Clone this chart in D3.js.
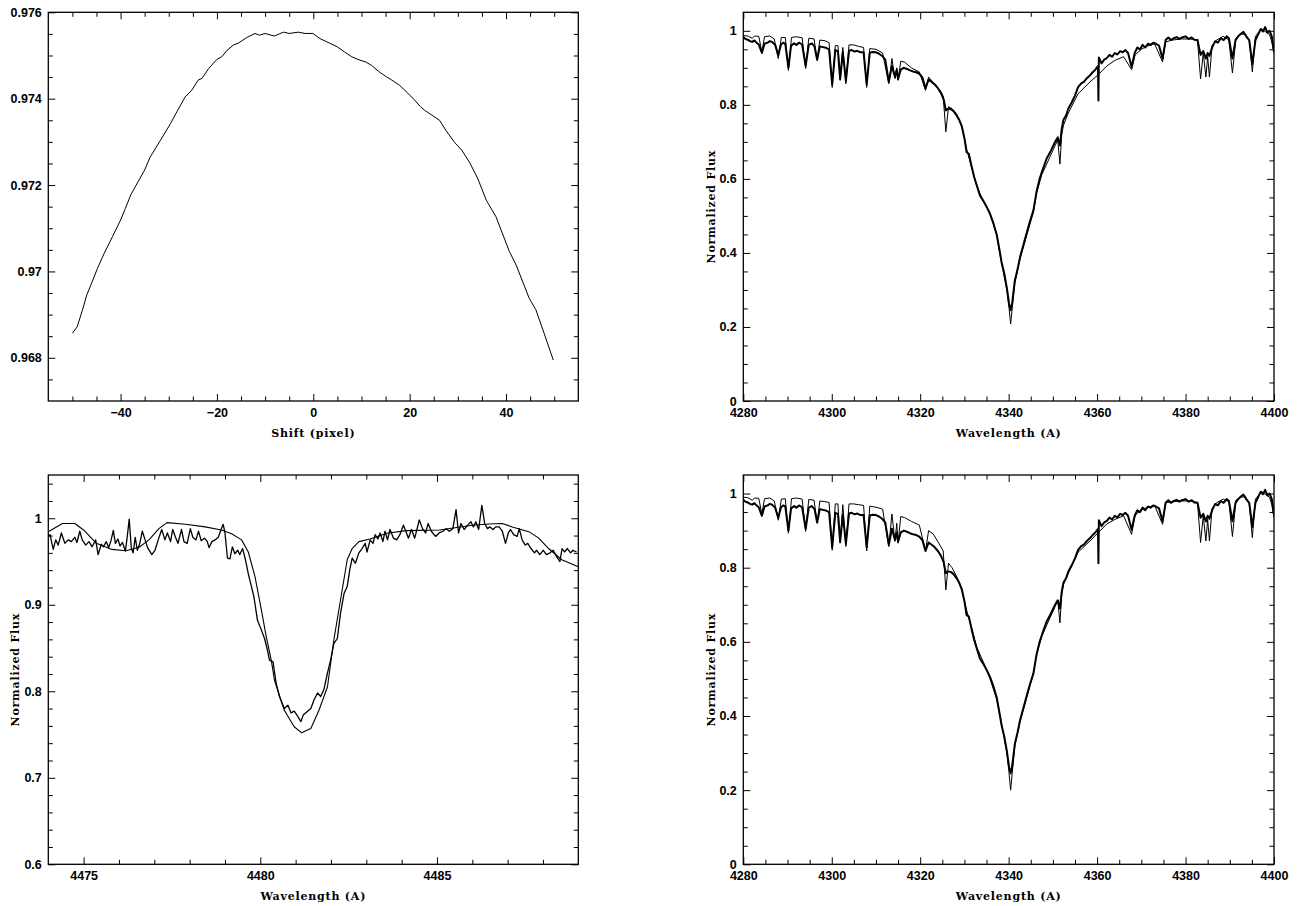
<!DOCTYPE html>
<html><head><meta charset="utf-8">
<script src="https://cdn.jsdelivr.net/npm/d3@7"></script>
<style>body{margin:0;background:#fff} svg{display:block}</style>
</head><body>
<svg id="c" width="1307" height="906"></svg>
<script>
// ---------- Cross-correlation (top-left) ----------
const ccfShift = [-50,-49,-47.9,-47,-46,-44.8,-43.4,-41.7,-40,-39,
  -37.9,-35,-33.9,-31.7,-29.6,-28.3,-26.6,-25.2,-23.9,-23.1,
  -21.7,-20,-19,-17.9,-16.6,-15.5,-13.9,-12.1,-11.2,-10,
  -8.1,-6.2,-5,-3.1,-1.7,-0.1,1.4,3.5,5,6.5,
  8,9.7,10.9,12.1,13.8,15,16.3,17.9,19.6,21,
  22.2,23.1,24.6,26.2,27.5,29.3,30.8,32.4,34.1,35.9,
  37.9,40.7,42.1,44.8,46.2,47.9,49.8];
const ccfValue = [0.96857,0.96872,0.96911,0.96946,0.96973,0.97007,0.97042,0.9708,0.97119,0.97146,
  0.97177,0.97235,0.97264,0.97304,0.97343,0.9737,0.97404,0.9742,0.97443,0.97447,
  0.9747,0.97491,0.97497,0.97512,0.97524,0.97529,0.97541,0.97551,0.97547,0.97551,
  0.97545,0.97554,0.97551,0.97554,0.97551,0.97551,0.97539,0.97528,0.9752,0.97508,
  0.97497,0.97489,0.97485,0.97477,0.97461,0.97452,0.97443,0.97431,0.97413,0.97397,
  0.97382,0.97373,0.97362,0.9735,0.97327,0.97299,0.97281,0.97253,0.97216,0.97165,
  0.97127,0.97046,0.97015,0.96938,0.96911,0.96857,0.96795];
const ccfXTicks = [-40,-20,0,20,40];
const ccfXLabels = ["\u221240","\u221220","0","20","40"];
const ccfYTicks = [0.968,0.970,0.972,0.974,0.976];
const ccfYLabels = ["0.968","0.97","0.972","0.974","0.976"];

// ---------- H-gamma region (right panels) ----------
const modelWave = [4280,4281,4282,4282.6,4283.5,4284.2,4284.8,4286,4287,4287.9,
  4288.6,4289.5,4290.2,4290.9,4292,4293.3,4294.1,4294.8,4296,4296.7,
  4297.3,4298.5,4299.4,4300.1,4300.8,4301.4,4301.9,4302.5,4303.2,4303.9,
  4305,4306,4307.2,4307.9,4308.6,4310,4311.5,4312.9,4313.6,4314.3,
  4314.7,4315.0,4315.6,4316.5,4318,4319.8,4321.2,4321.9,4323,4324.5,
  4325.2,4325.8,4326.4,4327.2,4328.2,4329.4,4330.5,4331.6,4332.8,4334.3,
  4335.8,4337.3,4338.4,4339.6,4340.1,4340.45,4340.8,4341.4,4342.6,4344.1,
  4345.6,4346.3,4347.5,4348.6,4350.5,4351.1,4351.6,4352.0,4352.4,4353.5,
  4355.7,4358.4,4360.3,4362.2,4364,4366,4367.8,4368.6,4370,4371.2,
  4373,4374.8,4375.5,4377,4379,4381,4382.7,4383.4,4384.0,4384.6,
  4385.0,4385.4,4386.0,4387,4388.5,4389.8,4390.6,4391.4,4392.5,4393.5,
  4394.4,4395.1,4395.8,4397.2,4398,4399,4399.5,4400];
const modelAFlux = [0.987,0.986,0.980,0.986,0.985,0.943,0.984,0.986,0.978,0.925,
  0.982,0.982,0.893,0.982,0.984,0.981,0.898,0.980,0.978,0.920,
  0.975,0.973,0.968,0.847,0.960,0.960,0.866,0.955,0.857,0.962,
  0.962,0.958,0.955,0.847,0.952,0.950,0.940,0.857,0.925,0.871,
  0.900,0.866,0.918,0.915,0.900,0.889,0.839,0.875,0.860,0.839,
  0.823,0.727,0.795,0.790,0.776,0.745,0.680,0.632,0.580,0.540,
  0.508,0.447,0.372,0.300,0.250,0.208,0.250,0.320,0.385,0.448,
  0.510,0.560,0.612,0.640,0.690,0.705,0.640,0.720,0.745,0.778,
  0.830,0.862,0.882,0.905,0.920,0.930,0.895,0.935,0.950,0.958,
  0.965,0.916,0.970,0.975,0.978,0.978,0.975,0.870,0.940,0.875,
  0.930,0.875,0.960,0.975,0.985,0.975,0.886,0.980,0.990,0.992,
  0.975,0.889,0.985,1.005,0.998,0.990,0.970,0.940];
const modelBFlux = [0.990,0.989,0.982,0.988,0.987,0.945,0.986,0.988,0.980,0.928,
  0.985,0.986,0.893,0.986,0.988,0.985,0.898,0.984,0.982,0.920,
  0.980,0.978,0.976,0.847,0.972,0.972,0.866,0.970,0.857,0.972,
  0.972,0.970,0.968,0.845,0.966,0.963,0.958,0.857,0.945,0.871,
  0.920,0.866,0.938,0.935,0.925,0.915,0.845,0.900,0.890,0.860,
  0.845,0.740,0.812,0.800,0.777,0.740,0.685,0.640,0.585,0.545,
  0.500,0.445,0.380,0.300,0.245,0.200,0.245,0.320,0.385,0.450,
  0.515,0.565,0.615,0.645,0.695,0.712,0.651,0.728,0.755,0.785,
  0.842,0.872,0.895,0.918,0.930,0.940,0.890,0.942,0.955,0.962,
  0.968,0.917,0.975,0.978,0.980,0.980,0.976,0.868,0.940,0.872,
  0.930,0.872,0.960,0.975,0.985,0.978,0.884,0.982,0.990,0.992,
  0.975,0.881,0.985,1.005,0.998,0.990,0.970,0.935];
const obsWave = [4280,4280.5,4281,4281.5,4282,4282.5,4283,4283.5,4284.2,4284.8,
  4285.5,4286,4286.5,4287.2,4287.9,4288.5,4289,4289.5,4290.2,4290.8,
  4291.5,4292,4292.6,4293.3,4294.1,4294.8,4295.5,4296.1,4296.7,4297.3,
  4298,4298.7,4299.4,4300.1,4300.8,4301.4,4301.9,4302.5,4303.2,4303.9,
  4304.5,4305.2,4305.8,4306.5,4307.2,4307.9,4308.6,4309.3,4310,4310.7,
  4311.4,4312.1,4312.9,4313.6,4314.3,4314.7,4315.0,4315.6,4316.3,4317,
  4317.7,4318.4,4319.1,4319.8,4320.5,4321.2,4321.9,4322.6,4323.3,4324,
  4324.7,4325.3,4325.8,4326.4,4327,4327.6,4328.2,4328.8,4329.4,4330,
  4330.5,4331,4331.6,4332.2,4332.8,4333.5,4334.3,4335,4335.8,4336.5,
  4337.3,4337.9,4338.4,4339,4339.6,4340.1,4340.45,4340.8,4341.4,4342,
  4342.6,4343.3,4344.1,4344.8,4345.6,4346.3,4347,4347.7,4348.6,4349.5,
  4350.5,4351.1,4351.6,4352,4352.4,4353,4353.5,4354.2,4355,4355.7,
  4356.4,4357,4357.7,4358.4,4359,4359.6,4360.2,4360.3,4360.4,4361,
  4361.6,4362.2,4362.8,4363.4,4364,4364.6,4365.2,4365.8,4366.4,4367,
  4367.8,4368.5,4369.1,4369.7,4370.3,4370.9,4371.5,4372.1,4372.7,4373.3,
  4374,4374.8,4375.5,4376.1,4376.7,4377.3,4378,4378.6,4379.2,4380,
  4380.7,4381.4,4382,4382.7,4383.4,4384,4384.6,4385,4385.4,4386,
  4386.7,4387.3,4388,4388.6,4389.3,4389.8,4390.6,4391.3,4391.9,4392.5,
  4393.1,4393.7,4394.4,4395.1,4395.8,4396.4,4397,4397.5,4398,4398.5,
  4399,4399.5,4400];
const obsFlux = [0.983,0.978,0.976,0.972,0.970,0.974,0.968,0.963,0.940,0.965,
  0.968,0.972,0.970,0.962,0.935,0.962,0.968,0.965,0.900,0.960,
  0.966,0.962,0.968,0.963,0.905,0.962,0.966,0.958,0.922,0.958,
  0.956,0.954,0.950,0.855,0.948,0.945,0.870,0.942,0.865,0.946,
  0.948,0.944,0.946,0.942,0.942,0.855,0.941,0.943,0.942,0.938,
  0.932,0.922,0.862,0.905,0.875,0.895,0.870,0.895,0.900,0.897,
  0.893,0.890,0.888,0.884,0.874,0.845,0.868,0.862,0.855,0.845,
  0.832,0.815,0.785,0.790,0.788,0.782,0.772,0.760,0.742,0.710,
  0.672,0.668,0.635,0.605,0.582,0.555,0.540,0.525,0.505,0.482,
  0.450,0.410,0.375,0.345,0.305,0.262,0.245,0.265,0.325,0.355,
  0.390,0.420,0.455,0.485,0.515,0.565,0.600,0.625,0.655,0.675,
  0.700,0.712,0.690,0.735,0.760,0.772,0.790,0.805,0.825,0.848,
  0.858,0.862,0.872,0.880,0.888,0.895,0.905,0.812,0.928,0.912,
  0.922,0.926,0.935,0.930,0.940,0.936,0.945,0.942,0.948,0.940,
  0.902,0.940,0.955,0.950,0.962,0.955,0.965,0.962,0.968,0.965,
  0.960,0.925,0.975,0.982,0.975,0.980,0.983,0.978,0.982,0.985,
  0.978,0.982,0.976,0.975,0.935,0.945,0.925,0.940,0.932,0.955,
  0.972,0.968,0.980,0.975,0.985,0.980,0.925,0.975,0.985,0.992,
  0.997,0.985,0.975,0.910,0.975,0.990,1.005,0.998,1.010,0.995,
  1.000,0.985,0.943];
const hgXTicks = [4280,4300,4320,4340,4360,4380,4400];
const hgXLabels = ["4280","4300","4320","4340","4360","4380","4400"];
const hgYTicks = [0,0.2,0.4,0.6,0.8,1];
const hgYLabels = ["0","0.2","0.4","0.6","0.8","1"];

// ---------- He I 4471 / Mg II 4481 region (bottom-left) ----------
const mgModelWave = [4474,4474.4,4474.75,4475,4475.36,4475.8,4476.2,4476.57,4476.85,4477.13,
  4477.36,4477.88,4478.44,4478.9,4479.19,4479.47,4479.66,4479.85,4480.03,4480.17,
  4480.31,4480.4,4480.68,4480.96,4481.17,4481.43,4481.66,4481.9,4482.08,4482.27,
  4482.46,4482.6,4482.79,4483.11,4483.58,4484.14,4485.07,4486.0,4486.47,4486.85,
  4487.13,4487.6,4487.88,4488.16,4488.53,4489];
const mgModelFlux = [0.9845,0.994,0.994,0.9865,0.971,0.964,0.9625,0.9665,0.975,0.988,
  0.995,0.993,0.990,0.9865,0.982,0.975,0.961,0.9325,0.894,0.863,
  0.836,0.813,0.778,0.759,0.752,0.757,0.778,0.805,0.859,0.9055,
  0.952,0.965,0.973,0.976,0.9826,0.9857,0.9865,0.992,0.9934,0.994,
  0.990,0.9845,0.977,0.965,0.952,0.944];
const mgObsWave = [4474.0,4474.05,4474.09,4474.14,4474.21,4474.28,4474.37,4474.47,4474.56,4474.65,
  4474.75,4474.81,4474.89,4474.96,4475.06,4475.15,4475.24,4475.34,4475.41,4475.5,
  4475.56,4475.64,4475.71,4475.78,4475.84,4475.9,4475.97,4476.03,4476.1,4476.18,
  4476.23,4476.29,4476.35,4476.4,4476.46,4476.52,4476.59,4476.66,4476.74,4476.81,
  4476.93,4477.02,4477.11,4477.21,4477.3,4477.37,4477.46,4477.52,4477.6,4477.67,
  4477.77,4477.84,4477.93,4478.02,4478.09,4478.18,4478.25,4478.33,4478.42,4478.5,
  4478.55,4478.63,4478.72,4478.81,4478.89,4478.95,4479.0,4479.07,4479.14,4479.21,
  4479.28,4479.36,4479.42,4479.5,4479.58,4479.67,4479.75,4479.82,4479.92,4480.01,
  4480.12,4480.2,4480.26,4480.36,4480.45,4480.54,4480.68,4480.78,4480.87,4480.96,
  4481.06,4481.15,4481.22,4481.34,4481.43,4481.52,4481.62,4481.71,4481.8,4481.9,
  4481.99,4482.08,4482.18,4482.27,4482.37,4482.46,4482.53,4482.6,4482.69,4482.79,
  4482.88,4482.97,4483.02,4483.11,4483.19,4483.25,4483.33,4483.39,4483.47,4483.53,
  4483.6,4483.67,4483.77,4483.86,4483.95,4484.05,4484.12,4484.19,4484.28,4484.37,
  4484.5,4484.59,4484.68,4484.75,4484.84,4484.96,4485.06,4485.17,4485.26,4485.35,
  4485.45,4485.54,4485.61,4485.68,4485.77,4485.87,4485.96,4486.03,4486.1,4486.18,
  4486.27,4486.35,4486.43,4486.5,4486.59,4486.66,4486.76,4486.85,4486.94,4487.02,
  4487.08,4487.17,4487.27,4487.33,4487.41,4487.5,4487.57,4487.66,4487.76,4487.82,
  4487.91,4488.01,4488.1,4488.2,4488.29,4488.38,4488.48,4488.54,4488.61,4488.69,
  4488.78,4488.85,4488.95];
const mgObsFlux = [0.979,0.981,0.973,0.964,0.975,0.969,0.983,0.971,0.975,0.973,
  0.978,0.972,0.985,0.975,0.969,0.973,0.967,0.975,0.958,0.970,
  0.967,0.973,0.966,0.975,0.986,0.971,0.976,0.968,0.972,0.962,
  0.977,0.999,0.965,0.960,0.978,0.963,0.971,0.985,0.975,0.966,
  0.958,0.963,0.975,0.987,0.975,0.983,0.973,0.987,0.978,0.971,
  0.987,0.973,0.971,0.988,0.978,0.975,0.985,0.974,0.977,0.973,
  0.966,0.973,0.975,0.978,0.987,0.993,0.983,0.954,0.953,0.967,
  0.959,0.963,0.958,0.965,0.952,0.934,0.921,0.909,0.882,0.873,
  0.861,0.848,0.836,0.834,0.809,0.794,0.780,0.784,0.775,0.777,
  0.771,0.765,0.773,0.777,0.780,0.790,0.798,0.794,0.802,0.821,
  0.836,0.855,0.861,0.890,0.913,0.921,0.940,0.954,0.948,0.960,
  0.965,0.971,0.961,0.975,0.971,0.981,0.976,0.983,0.973,0.985,
  0.975,0.987,0.977,0.975,0.981,0.992,0.985,0.977,0.987,0.977,
  0.998,0.988,0.983,0.994,0.985,0.979,0.983,0.985,0.988,0.985,
  0.988,1.010,0.983,0.994,0.987,0.992,0.996,0.990,0.996,0.987,
  1.015,0.994,0.988,0.990,0.987,0.990,0.990,0.985,0.971,0.983,
  0.987,0.981,0.979,0.988,0.975,0.969,0.971,0.965,0.960,0.963,
  0.958,0.963,0.958,0.960,0.963,0.956,0.950,0.965,0.961,0.965,
  0.960,0.963,0.961];
const mgXTicks = [4475,4480,4485];
const mgXLabels = ["4475","4480","4485"];
const mgYTicks = [0.6,0.7,0.8,0.9,1];
const mgYLabels = ["0.6","0.7","0.8","0.9","1"];

// ---------- drawing ----------
const svg = d3.select("#c");
const defs = svg.append("defs");
const TICK_FONT = "'Liberation Sans', Arial, sans-serif";
const TITLE_FONT = "'DejaVu Serif', serif";

function zip(xs, ys){ return xs.map((v,i)=>[v, ys[i]]); }

function panel(p){
  const x = d3.scaleLinear().domain(p.xDomain).range([p.left, p.right]);
  const y = d3.scaleLinear().domain(p.yDomain).range([p.bottom, p.top]);
  const g = svg.append("g");
  const cid = "clip-" + p.id;
  defs.append("clipPath").attr("id", cid).append("rect")
    .attr("x", p.left).attr("y", p.top)
    .attr("width", p.right - p.left).attr("height", p.bottom - p.top);
  const line = d3.line().x(d => x(d[0])).y(d => y(d[1]));
  p.series.forEach(s => {
    g.append("path").attr("d", line(zip(s.x, s.y)))
      .attr("fill", "none").attr("stroke", "#000")
      .attr("stroke-width", s.w).attr("stroke-linejoin", "round")
      .attr("clip-path", `url(#${cid})`);
  });
  function addAxis(fn, scale, vals, size, tr, labels, pad){
    const a = fn(scale).tickValues(vals).tickSize(size).tickSizeOuter(0);
    if (labels) a.tickFormat((d,i) => labels[i]).tickPadding(pad);
    else a.tickFormat("");
    const ag = g.append("g").attr("transform", tr).call(a);
    ag.select(".domain").remove();
    ag.selectAll(".tick line").attr("stroke", "#000").attr("stroke-width", 1);
    ag.selectAll("text").attr("font-family", TICK_FONT).attr("font-size", 12.5)
      .attr("font-weight", "bold").attr("fill", "#000");
  }
  const MAJ = -7, MIN = -4.5;
  const xMinor = d3.range(p.xDomain[0], p.xDomain[1] + 1e-9, p.xMinorStep)
    .filter(v => !p.xTicks.some(t => Math.abs(t - v) < 1e-6) && v > p.xDomain[0] + 1e-9 && v < p.xDomain[1] - 1e-9);
  const yStart = Math.ceil(p.yDomain[0] / p.yMinorStep - 1e-9) * p.yMinorStep;
  const yMinor = d3.range(yStart, p.yDomain[1] + 1e-9, p.yMinorStep)
    .map(v => +v.toFixed(6))
    .filter(v => !p.yTicks.some(t => Math.abs(t - v) < 1e-6) && v > p.yDomain[0] + 1e-9 && v < p.yDomain[1] - 1e-9);
  addAxis(d3.axisBottom, x, p.xTicks, MAJ, `translate(0,${p.bottom})`, p.xLabels, 7);
  addAxis(d3.axisBottom, x, xMinor, MIN, `translate(0,${p.bottom})`);
  addAxis(d3.axisTop, x, p.xTicks, MAJ, `translate(0,${p.top})`);
  addAxis(d3.axisTop, x, xMinor, MIN, `translate(0,${p.top})`);
  addAxis(d3.axisLeft, y, p.yTicks, MAJ, `translate(${p.left},0)`, p.yLabels, 6.5);
  addAxis(d3.axisLeft, y, yMinor, MIN, `translate(${p.left},0)`);
  addAxis(d3.axisRight, y, p.yTicks, MAJ, `translate(${p.right},0)`);
  addAxis(d3.axisRight, y, yMinor, MIN, `translate(${p.right},0)`);
  g.append("rect").attr("x", p.left).attr("y", p.top)
    .attr("width", p.right - p.left).attr("height", p.bottom - p.top)
    .attr("fill", "none").attr("stroke", "#000").attr("stroke-width", 1.3);
  g.append("text").attr("x", (p.left + p.right) / 2).attr("y", p.bottom + 36)
    .attr("text-anchor", "middle").attr("font-family", TITLE_FONT).attr("font-weight", "bold")
    .attr("font-size", 11).attr("letter-spacing", "0.8px").attr("fill", "#000").text(p.xTitle);
  if (p.yTitle) {
    const cy = (p.top + p.bottom) / 2;
    g.append("text").attr("transform", `translate(${p.yTitleX},${cy}) rotate(-90)`)
      .attr("text-anchor", "middle").attr("font-family", TITLE_FONT).attr("font-weight", "bold")
      .attr("font-size", 11).attr("letter-spacing", "0.8px").attr("fill", "#000").text(p.yTitle);
  }
}

panel({id: "ccf", left: 48.3, right: 578.3, top: 12.3, bottom: 401,
  xDomain: [-55, 55], yDomain: [0.967, 0.976],
  xTicks: ccfXTicks, xLabels: ccfXLabels, xMinorStep: 5,
  yTicks: ccfYTicks, yLabels: ccfYLabels, yMinorStep: 0.0005,
  xTitle: "Shift (pixel)",
  series: [{x: ccfShift, y: ccfValue, w: 1}]});

panel({id: "hg1", left: 743.3, right: 1274, top: 12.3, bottom: 401,
  xDomain: [4280, 4400], yDomain: [0, 1.05],
  xTicks: hgXTicks, xLabels: hgXLabels, xMinorStep: 5,
  yTicks: hgYTicks, yLabels: hgYLabels, yMinorStep: 0.05,
  xTitle: "Wavelength (A)", yTitle: "Normalized Flux", yTitleX: 715,
  series: [{x: obsWave, y: obsFlux, w: 2}, {x: modelWave, y: modelAFlux, w: 1}]});

panel({id: "mg", left: 48.3, right: 578.3, top: 475, bottom: 864.3,
  xDomain: [4474, 4489], yDomain: [0.6, 1.05],
  xTicks: mgXTicks, xLabels: mgXLabels, xMinorStep: 1,
  yTicks: mgYTicks, yLabels: mgYLabels, yMinorStep: 0.02,
  xTitle: "Wavelength (A)", yTitle: "Normalized Flux", yTitleX: 19,
  series: [{x: mgObsWave, y: mgObsFlux, w: 1.3}, {x: mgModelWave, y: mgModelFlux, w: 1.1}]});

panel({id: "hg2", left: 743.3, right: 1274, top: 475, bottom: 864.3,
  xDomain: [4280, 4400], yDomain: [0, 1.05],
  xTicks: hgXTicks, xLabels: hgXLabels, xMinorStep: 5,
  yTicks: hgYTicks, yLabels: hgYLabels, yMinorStep: 0.05,
  xTitle: "Wavelength (A)", yTitle: "Normalized Flux", yTitleX: 715,
  series: [{x: obsWave, y: obsFlux, w: 2}, {x: modelWave, y: modelBFlux, w: 1}]});
</script>
</body></html>
